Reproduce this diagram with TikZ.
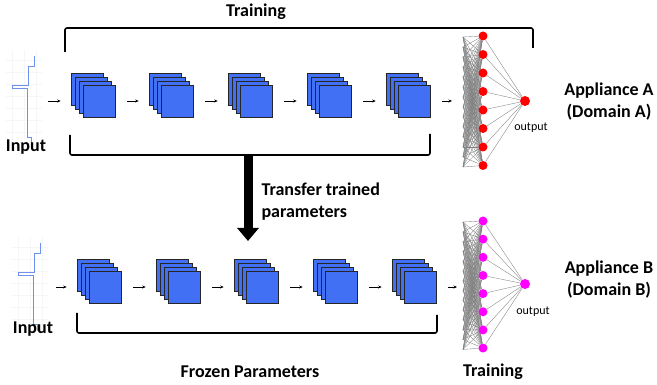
\documentclass[tikz,border=0pt]{standalone}
\usepackage{fontspec}
\setmainfont{Carlito}
\usetikzlibrary{arrows.meta,backgrounds}

\definecolor{mapblue}{RGB}{66,112,245}
\definecolor{sigblue}{RGB}{110,145,235}
\definecolor{nodered}{RGB}{255,0,0}
\definecolor{nodemag}{RGB}{255,0,255}

\begin{document}
\begin{tikzpicture}[x=1pt,y=-1pt]
	\tikzset{fmap/.style = {draw=black!85, fill=mapblue, minimum size=32pt, inner sep=0pt, line width=0.6pt}}
	\tikzset{link/.style = {-{Stealth[length=3.5pt,width=3pt]}, line width=0.6pt, shorten <=12pt, shorten >=22pt}}
	\tikzset{neuronA/.style = {circle, fill=nodered, inner sep=0pt, minimum size=9pt}}
	\tikzset{neuronB/.style = {circle, fill=nodemag, inner sep=0pt, minimum size=9pt}}
	\tikzset{wire/.style = {black!50, line width=0.35pt}}
	\tikzset{brace/.style = {line width=1.6pt, rounded corners=2pt}}
	\tikzset{label/.style = {font=\fontsize{18}{22}\selectfont\bfseries, align=center}}
	\useasboundingbox (0,0) rectangle (657,385);

	% input signals
	\foreach \dx/\dy in {0/0, 6/187} {
		\begin{scope}[shift={(\dx,\dy)}]
			\draw[gray!7, line width=0.3pt] (6,50) grid[step=12pt] (42,140);
			\draw[sigblue, line width=0.9pt] (34,56) -- (34,66) -- (28,66) -- (28,85) -- (12,85) -- (12,88) -- (27,88) -- (27,137) -- (31,137) -- (31,144);
		\end{scope}
	}
	\node[label] (inA) at (26,147) {Input};
	\node[label] (inB) at (33,329) {Input};

	% feature maps
	\foreach \n/\x/\y in {t1/99/101, t2/177/101, t3/256/101, t4/335/101, t5/414/101,
		b1/105/287, b2/184/287, b3/262/287, b4/341/287, b5/420/287} {
		\foreach \k in {12,8,4}
			\node[fmap] at (\x-\k,\y-\k) {};
		\node[fmap] (\n) at (\x,\y) {};
	}

	\coordinate (sigA) at (36,101);
	\coordinate (sigB) at (44,287);
	\coordinate (hA) at (474,101);
	\coordinate (hB) at (479,287);
	\draw[link] (sigA) -- (t1);
	\draw[link] (t1) -- (t2);
	\draw[link] (t2) -- (t3);
	\draw[link] (t3) -- (t4);
	\draw[link] (t4) -- (t5);
	\draw[link] (t5) -- (hA);
	\draw[link] (sigB) -- (b1);
	\draw[link] (b1) -- (b2);
	\draw[link] (b2) -- (b3);
	\draw[link] (b3) -- (b4);
	\draw[link] (b4) -- (b5);
	\draw[link] (b5) -- (hB);

	% dense layers
	\foreach \i in {0,...,7} {
		\node[neuronA] (a\i) at (483,36+18.5*\i) {};
		\node[neuronB] (m\i) at (483,221+18.15*\i) {};
	}
	\node[neuronA, minimum size=10pt] (oa) at (525,101) {};
	\node[neuronB, minimum size=10pt] (ob) at (525,284) {};
	\foreach \j in {0,...,13} {
		\coordinate (ia\j) at (463,37+10*\j);
		\coordinate (ib\j) at (463,222+9.8*\j);
	}
	\begin{scope}[on background layer]
		\foreach \i in {0,...,7} {
			\foreach \j in {0,...,13} {
				\draw[wire] (ia\j) -- (a\i);
				\draw[wire] (ib\j) -- (m\i);
			}
			\draw[wire] (a\i) -- (oa);
			\draw[wire] (m\i) -- (ob);
		}
	\end{scope}
	\node[font=\fontsize{12}{14}\selectfont] (outA) at (531,128) {output};
	\node[font=\fontsize{12}{14}\selectfont] (outB) at (533,312) {output};

	% brackets
	\draw[brace] (65,52) -- (65,28) -- (533,28) -- (533,48);
	\draw[brace] (70,135) -- (70,155) -- (430,155) -- (430,134);
	\draw[brace] (77,313) -- (77,333) -- (437,333) -- (437,315);

	% transfer
	\coordinate (tfA) at (248,155);
	\coordinate (tfB) at (248,241);
	\draw[line width=9pt, -{Triangle[width=21pt,length=13pt]}] (tfA) -- (tfB);
	\node[label, align=left, anchor=west] (tf) at (258,202) {Transfer trained\\parameters};

	\node[label] (trA) at (256,12) {Training};
	\node[label] (trB) at (493,372) {Training};
	\node[label] (fz) at (250,372) {Frozen Parameters};
	\node[label] (apA) at (609,102) {Appliance A\\(Domain A)};
	\node[label] (apB) at (609,280) {Appliance B\\(Domain B)};
\end{tikzpicture}
\end{document}
